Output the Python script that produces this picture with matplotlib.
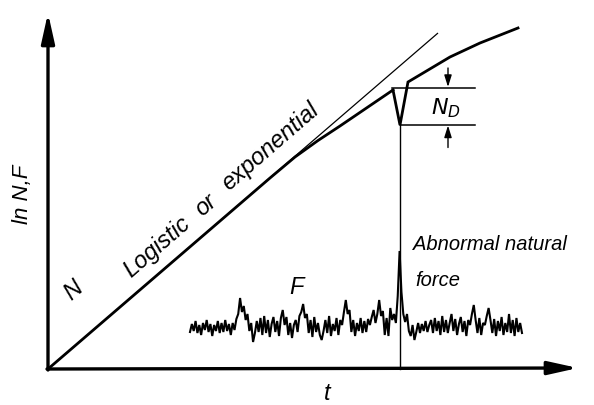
import numpy as np
import matplotlib
matplotlib.use("Agg")
import matplotlib.pyplot as plt

# ---- data (schematic units, origin at the axes corner) ----
# population curve before the disaster
n_t_before = [0, 222, 247, 270, 292, 345]
n_ln_before = [0, 191, 212, 228.5, 243, 279]
# drop and recovery
n_t_after = [345, 352, 360, 402, 432, 470]
n_ln_after = [279, 244, 287, 312, 326, 341]
# tangent (pure exponential)
tan_t = [0, 390]
tan_ln = [0, 336]
# N_D marks
nd_top = 281
nd_bottom = 244.5
event_t = 352
nd_left_top = 344
nd_left_bottom = 352
nd_right = 427
nd_arrow_t = 400
# random force F (offsets from its base level)
f_base = 41
f_start, f_end = 142, 474
f_values = [
    -4, 4, -3, 7, -5, 3, -7, 5, -2, 8, -4, 4, -8, 3, -3, 7, -5, 5, -4, 8,
    -3, 4, -7, 5, -2, 9, 14, 30, 16, 22, 8, 14, -3, 5, -14, -5, 7, -4, 10, -7,
    12, -5, 8, -9, 4, 11, -4, 7, -8, 10, 18, 3, 11, -7, 5, -10, 3, 8, -4, 12,
    16, 24, 10, 14, -5, 8, -9, 11, -4, 5, -7, -12, -3, 8, -5, 12, -8, 4, -3, 10,
    -7, 8, 3, 16, 28, 14, 18, -4, 8, -8, 5, -3, 10, -5, 7, -4, 9, 3, 11, 18,
    5, 14, 28, 12, 17, -7, 10, -8, 20, 8, 14, 5, 32, 77, 36, 14, 6, 14, -3, -8,
    3, -12, -4, 5, -5, 4, -3, 7, -4, 3, 8, -5, 10, -3, 7, -7, 12, -4, 8, -5,
    5, 14, -3, 9, -7, 4, 11, -4, 7, -8, 8, 3, 14, 23, 8, -5, 10, -7, 5, 3,
    12, 20, 8, -5, 9, -8, 7, -3, 11, -7, 5, -4, 14, -5, 8, -8, 10, -4, 5, -5,
]

fig = plt.figure(figsize=(5.94, 4.05), dpi=100)
ax = fig.add_axes([0, 0, 1, 1])
ax.set_xlim(-48, 546)
ax.set_ylim(-36, 369)
ax.axis("off")

# axes with arrows
big_head = "-|>,head_length=1.8,head_width=0.4"
ax.annotate("", xy=(0, 356), xytext=(0, -1),
            arrowprops=dict(arrowstyle=big_head, lw=2.4, color="black",
                            mutation_scale=10, shrinkA=0, shrinkB=0))
ax.annotate("", xy=(530, 1), xytext=(-1, 0),
            arrowprops=dict(arrowstyle=big_head, lw=2.4, color="black",
                            mutation_scale=10, shrinkA=0, shrinkB=0))

# tangent
ax.plot(tan_t, tan_ln, color="black", lw=0.9, solid_capstyle="butt")
# N curve
ax.plot(n_t_before, n_ln_before, color="black", lw=2.0, solid_joinstyle="round")
ax.plot(n_t_after, n_ln_after, color="black", lw=2.0, solid_joinstyle="miter")

# N_D lines
ax.plot([nd_left_top, nd_right], [nd_top, nd_top], color="black", lw=1.1)
ax.plot([nd_left_bottom, nd_right], [nd_bottom, nd_bottom], color="black", lw=1.1)
ax.plot([event_t, event_t], [0, nd_bottom], color="black", lw=1.0)
small_head = "-|>,head_length=0.7,head_width=0.22"
ax.annotate("", xy=(nd_arrow_t, nd_top + 1), xytext=(nd_arrow_t, nd_top + 20),
            arrowprops=dict(arrowstyle=small_head, lw=1.0, color="black",
                            mutation_scale=10, shrinkA=0, shrinkB=0))
ax.annotate("", xy=(nd_arrow_t, nd_bottom - 1), xytext=(nd_arrow_t, nd_bottom - 23),
            arrowprops=dict(arrowstyle=small_head, lw=1.0, color="black",
                            mutation_scale=10, shrinkA=0, shrinkB=0))

# F noise
f_t = np.linspace(f_start, f_end, len(f_values))
ax.plot(f_t, f_base + np.array(f_values), color="black", lw=1.5,
        solid_joinstyle="miter")

# texts
fam = ["Liberation Sans", "DejaVu Sans"]
kw = dict(family=fam, style="italic", color="black")
ax.text(-25, 175, "ln N,F", rotation=90, ha="center", va="center",
        fontsize=16, **kw)
ax.text(25, 78, "N", rotation=41, ha="center", va="center", fontsize=17, **kw)
ax.text(113.5, 117.5, "Logistic", rotation=41, rotation_mode="anchor",
        ha="center", va="baseline", fontsize=17, **kw)
ax.text(162, 158.5, "or", rotation=41, rotation_mode="anchor",
        ha="center", va="baseline", fontsize=17, **kw)
ax.text(227, 217, "exponential", rotation=41, rotation_mode="anchor",
        ha="center", va="baseline", fontsize=17, **kw)
ax.text(248, 82, "F", ha="center", va="center", fontsize=17, **kw)
ax.text(365, 124, "Abnormal natural", ha="left", va="center", fontsize=14.5, **kw)
ax.text(367, 89, "force", ha="left", va="center", fontsize=14.5, **kw)
ax.text(279, -24, "t", ha="center", va="center", fontsize=17, **kw)
ax.text(398, 261, r"$N_D$", ha="center", va="center",
        fontsize=16, math_fontfamily="dejavusans")

fig.savefig("out.png", dpi=100)
